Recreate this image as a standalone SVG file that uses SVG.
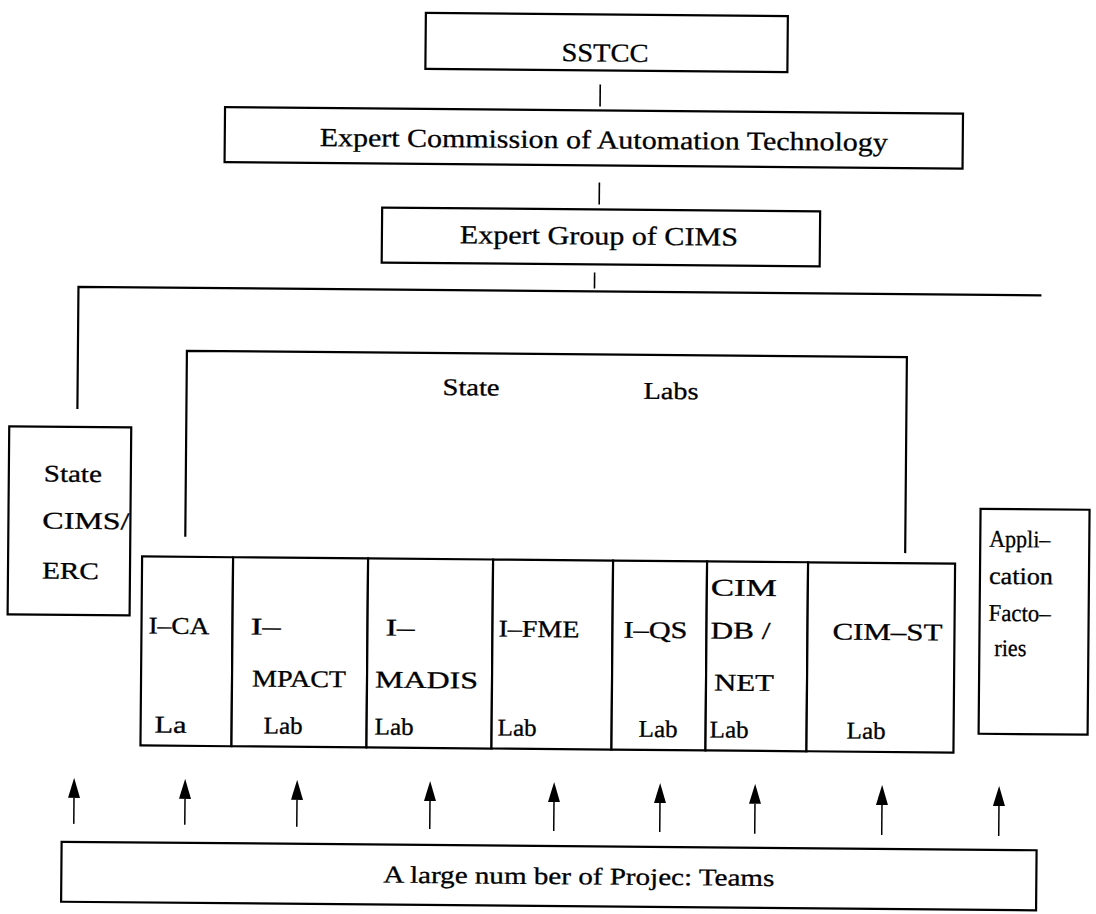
<svg xmlns="http://www.w3.org/2000/svg" width="1096" height="914" viewBox="0 0 1096 914">
  <defs>
    <style>
      .box { fill: #fff; stroke: #000; stroke-width: 2.2; }
      .line { fill: none; stroke: #000; stroke-width: 2.2; }
      .tick { fill: none; stroke: #000; stroke-width: 1.6; }
      .shaft { fill: none; stroke: #000; stroke-width: 1.5; }
      text { font-family: "Liberation Serif", "Times New Roman", serif; fill: #000; stroke: #000; stroke-width: 0.3; }
      .t26 { font-size: 26px; }
      .t24 { font-size: 24px; }
    </style>
    <marker id="head" viewBox="0 -6 20 12" refX="0" refY="0" markerWidth="20" markerHeight="12" markerUnits="userSpaceOnUse" orient="auto">
      <path d="M0,-6 L20,0 L0,6 Z" fill="#000"/>
    </marker>
  </defs>

  <!-- whole chart sits slightly skewed on the page -->
  <g transform="rotate(0.5 548 457)">

  <!-- top of the hierarchy -->
  <g id="sstcc">
    <rect class="box" x="422" y="14" width="362" height="56"/>
    <text class="t26" x="558" y="61" textLength="87" lengthAdjust="spacingAndGlyphs">SSTCC</text>
  </g>

  <g id="expert-commission">
    <rect class="box" x="222" y="110" width="738" height="55"/>
    <text class="t26" x="317" y="148" textLength="568" lengthAdjust="spacingAndGlyphs">Expert Commission of Automation Technology</text>
  </g>

  <g id="expert-group">
    <rect class="box" x="380" y="209" width="438" height="55"/>
    <text class="t26" x="458" y="244" textLength="278" lengthAdjust="spacingAndGlyphs">Expert Group of CIMS</text>
  </g>

  <!-- side units -->
  <g id="state-cims-erc">
    <rect class="box" x="9" y="431" width="122" height="188"/>
    <text class="t24" x="44" y="486" textLength="58" lengthAdjust="spacingAndGlyphs">State</text>
    <text class="t24" x="43" y="533" textLength="87" lengthAdjust="spacingAndGlyphs">CIMS/</text>
    <text class="t24" x="43" y="583" textLength="57" lengthAdjust="spacingAndGlyphs">ERC</text>
  </g>

  <g id="application-factories">
    <rect class="box" x="981" y="505" width="109" height="225"/>
    <text class="t24" x="990" y="543" textLength="61" lengthAdjust="spacingAndGlyphs">Appli–</text>
    <text class="t24" x="990" y="580" textLength="64" lengthAdjust="spacingAndGlyphs">cation</text>
    <text class="t24" x="990" y="617" textLength="62" lengthAdjust="spacingAndGlyphs">Facto–</text>
    <text class="t24" x="996" y="652" textLength="32" lengthAdjust="spacingAndGlyphs">ries</text>
  </g>

  <!-- state labs heading -->
  <g id="state-labs">
    <text class="t24" x="442" y="396" textLength="57" lengthAdjust="spacingAndGlyphs">State</text>
    <text class="t24" x="643" y="398" textLength="55" lengthAdjust="spacingAndGlyphs">Labs</text>
  </g>

  <!-- row of laboratories -->
  <g id="lab-ica">
    <rect class="box" x="143" y="560" width="91" height="189"/>
    <text class="t24" x="150" y="637" textLength="61" lengthAdjust="spacingAndGlyphs">I–CA</text>
    <text class="t24" x="157" y="736" textLength="32" lengthAdjust="spacingAndGlyphs">La</text>
  </g>
  <g id="lab-impact">
    <rect class="box" x="234" y="560" width="135" height="189"/>
    <text class="t24" x="252" y="637" textLength="30" lengthAdjust="spacingAndGlyphs">I–</text>
    <text class="t24" x="254" y="689" textLength="94" lengthAdjust="spacingAndGlyphs">MPACT</text>
    <text class="t24" x="266" y="736" textLength="39" lengthAdjust="spacingAndGlyphs">Lab</text>
  </g>
  <g id="lab-imadis">
    <rect class="box" x="369" y="560" width="125" height="189"/>
    <text class="t24" x="387" y="637" textLength="29" lengthAdjust="spacingAndGlyphs">I–</text>
    <text class="t24" x="377" y="689" textLength="103" lengthAdjust="spacingAndGlyphs">MADIS</text>
    <text class="t24" x="377" y="736" textLength="39" lengthAdjust="spacingAndGlyphs">Lab</text>
  </g>
  <g id="lab-ifme">
    <rect class="box" x="494" y="560" width="120" height="189"/>
    <text class="t24" x="500" y="637" textLength="81" lengthAdjust="spacingAndGlyphs">I–FME</text>
    <text class="t24" x="500" y="736" textLength="39" lengthAdjust="spacingAndGlyphs">Lab</text>
  </g>
  <g id="lab-iqs">
    <rect class="box" x="614" y="560" width="94" height="189"/>
    <text class="t24" x="625" y="637" textLength="64" lengthAdjust="spacingAndGlyphs">I–QS</text>
    <text class="t24" x="641" y="736" textLength="39" lengthAdjust="spacingAndGlyphs">Lab</text>
  </g>
  <g id="lab-cimdbnet">
    <rect class="box" x="708" y="560" width="101" height="189"/>
    <text class="t24" x="712" y="594" textLength="66" lengthAdjust="spacingAndGlyphs">CIM</text>
    <text class="t24" x="712" y="637" textLength="60" lengthAdjust="spacingAndGlyphs">DB /</text>
    <text class="t24" x="716" y="689" textLength="60" lengthAdjust="spacingAndGlyphs">NET</text>
    <text class="t24" x="712" y="736" textLength="39" lengthAdjust="spacingAndGlyphs">Lab</text>
  </g>
  <g id="lab-cimst">
    <rect class="box" x="809" y="560" width="147" height="189"/>
    <text class="t24" x="834" y="637" textLength="110" lengthAdjust="spacingAndGlyphs">CIM–ST</text>
    <text class="t24" x="849" y="736" textLength="39" lengthAdjust="spacingAndGlyphs">Lab</text>
  </g>

  <!-- base of the hierarchy -->
  <g id="project-teams">
    <rect class="box" x="65" y="846" width="975" height="60"/>
    <text class="t24" x="387" y="884" textLength="391" lengthAdjust="spacingAndGlyphs">A large num ber of Projec: Teams</text>
  </g>

  <!-- connectors -->
  <g id="connectors">
    <line class="tick" x1="597" y1="84" x2="597" y2="106"/>
    <line class="tick" x1="597" y1="182" x2="597" y2="204"/>
    <line class="tick" x1="593" y1="272" x2="593" y2="288"/>
    <path class="line" d="M77,413 V291 H1040"/>
    <path class="line" d="M186,540 V354 H906 V550"/>
    <line class="shaft" x1="77" y1="828" x2="77" y2="802" marker-end="url(#head)"/>
    <line class="shaft" x1="188" y1="828" x2="188" y2="802" marker-end="url(#head)"/>
    <line class="shaft" x1="300" y1="829" x2="300" y2="802" marker-end="url(#head)"/>
    <line class="shaft" x1="433" y1="830" x2="433" y2="802" marker-end="url(#head)"/>
    <line class="shaft" x1="557" y1="831" x2="557" y2="802" marker-end="url(#head)"/>
    <line class="shaft" x1="663" y1="831" x2="663" y2="802" marker-end="url(#head)"/>
    <line class="shaft" x1="758" y1="832" x2="758" y2="802" marker-end="url(#head)"/>
    <line class="shaft" x1="885" y1="832" x2="885" y2="802" marker-end="url(#head)"/>
    <line class="shaft" x1="1002" y1="832" x2="1002" y2="802" marker-end="url(#head)"/>
  </g>

  </g>
</svg>
